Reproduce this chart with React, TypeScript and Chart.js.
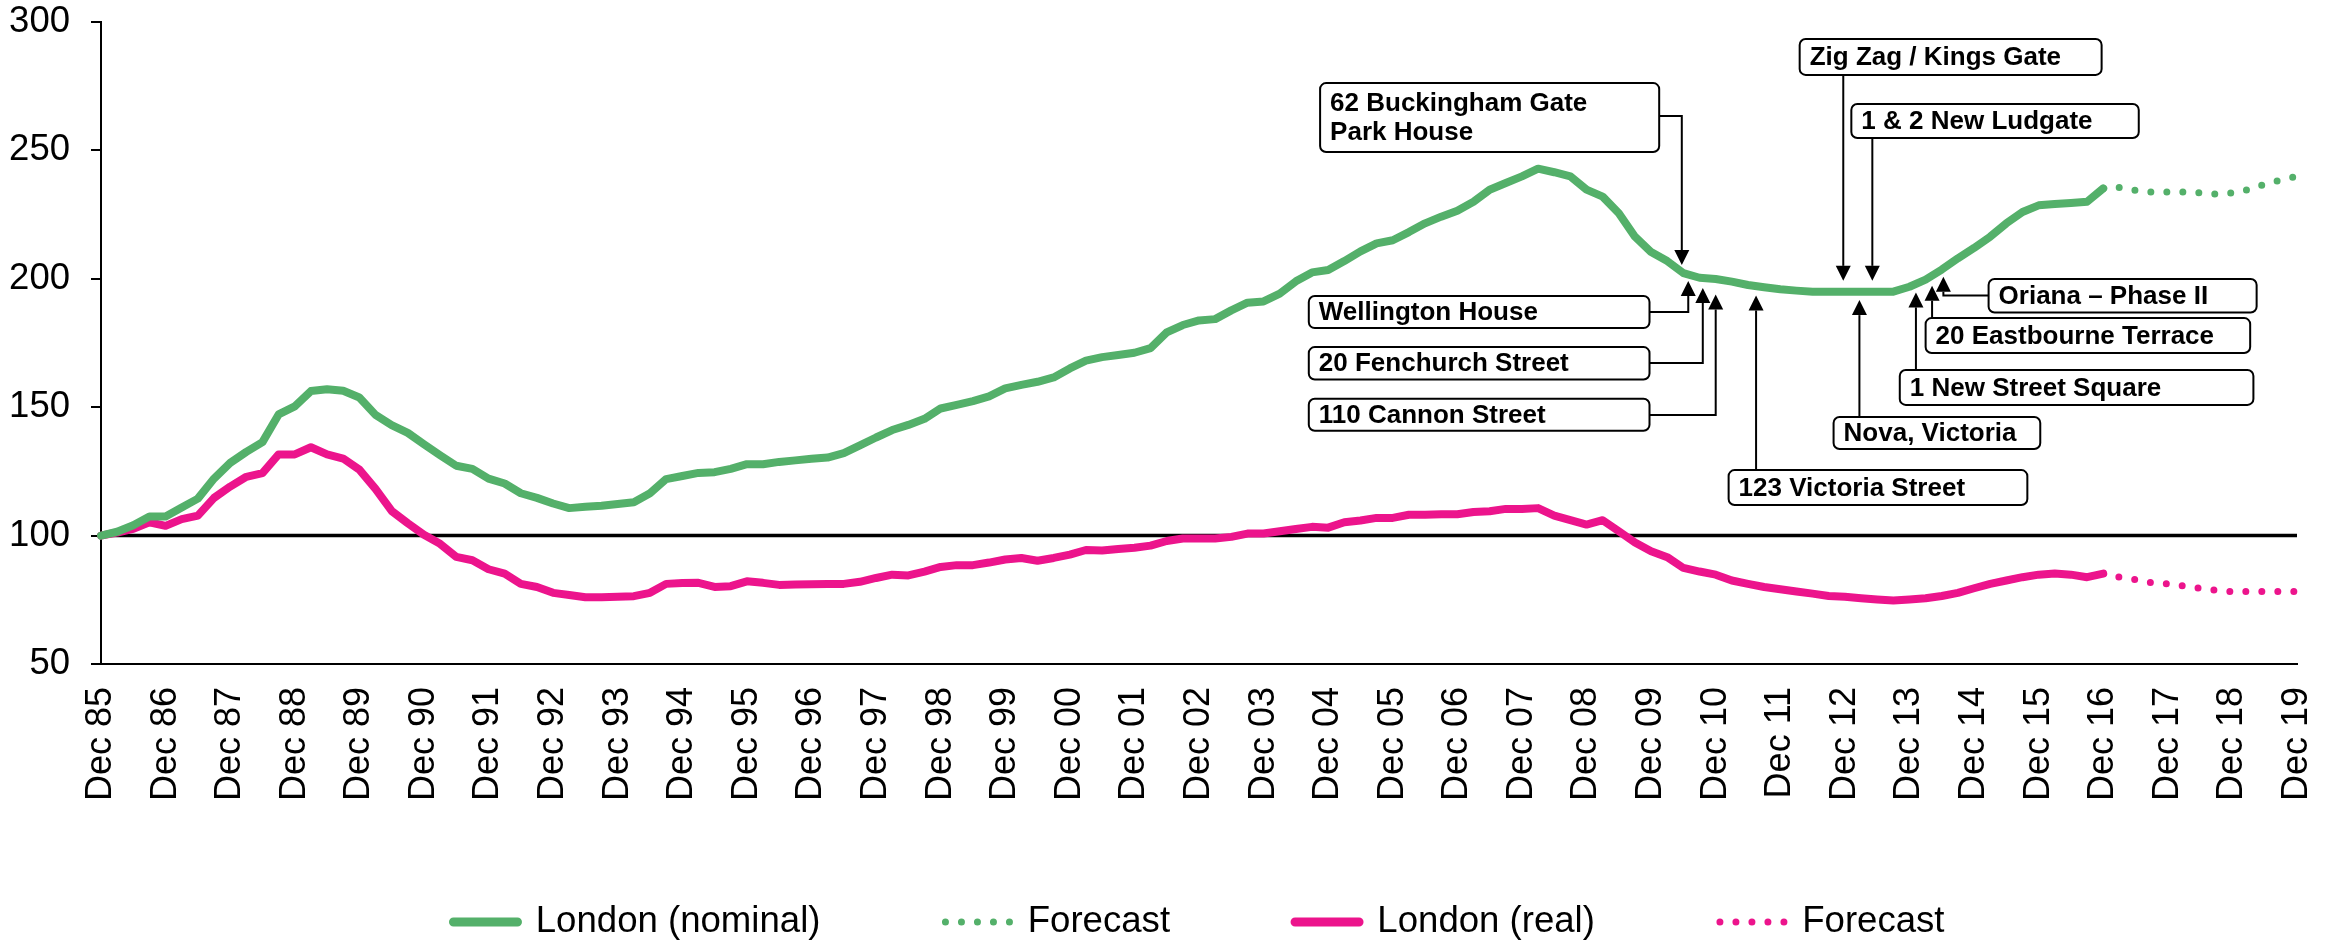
import React, { useEffect, useRef } from 'react';
import { Chart, registerables } from 'chart.js';

Chart.register(...registerables);

const FONT = "'Liberation Sans', Arial, Helvetica, sans-serif";
const GREEN = '#54B06A';
const PINK = '#EC148C';

const YEARS = ['85', '86', '87', '88', '89', '90', '91', '92', '93', '94', '95', '96', '97', '98', '99', '00', '01', '02', '03', '04', '05', '06', '07', '08', '09', '10', '11', '12', '13', '14', '15', '16', '17', '18', '19'];
const QUARTERS = ['Mar', 'Jun', 'Sep', 'Dec'];

const CATEGORIES: string[] = ['Dec ' + YEARS[0]];
for (let k = 1; k < YEARS.length; k++) for (const q of QUARTERS) CATEGORIES.push(q + ' ' + YEARS[k]);

// London (nominal), Dec 85 .. Dec 16 quarterly
const NOMINAL = [
  100, 101.5, 104, 107.4, 107.4, 110.9, 114.4, 122.2, 128.3, 132.6,
  136.4, 147.2, 150.3, 156.3, 157, 156.4, 153.8, 147, 143, 140,
  135.6, 131.3, 127.2, 126, 122.2, 120.3, 116.5, 114.7, 112.5, 110.7,
  111.2, 111.6, 112.3, 113, 116.5, 122, 123.2, 124.4, 124.7, 126,
  127.8, 127.8, 128.7, 129.3, 129.9, 130.4, 132.1, 135.1, 138.2, 141.1,
  143.1, 145.5, 149.5, 150.9, 152.4, 154.2, 157.3, 158.7, 159.9, 161.6,
  165.1, 168.1, 169.5, 170.3, 171.2, 173, 179.1, 182, 183.8, 184.3,
  187.7, 190.7, 191.2, 194.2, 199, 202.5, 203.4, 206.9, 210.7, 213.8,
  215, 218.2, 221.6, 224.2, 226.5, 230, 234.7, 237.3, 239.9, 242.9,
  241.5, 239.9, 234.7, 232, 225.5, 216.4, 210.4, 206.9, 202.2, 200.4,
  199.9, 198.9, 197.6, 196.7, 195.9, 195.4, 195, 195, 195, 195,
  195, 195, 196.9, 199.7, 203.6, 208, 212, 216.4, 221.6, 226,
  228.6, 229.1, 229.5, 230, 235.2,
];

// London (real), Dec 85 .. Dec 16 quarterly
const REAL = [
  100, 101.2, 102.6, 105.2, 103.8, 106.4, 107.8, 114.7, 119.1, 122.9,
  124.3, 131.6, 131.6, 134.4, 131.6, 130, 125.7, 118.2, 109.6, 104.8,
  100.3, 96.8, 91.7, 90.4, 86.9, 85.2, 81.2, 80, 77.7, 76.9,
  76, 76, 76.2, 76.4, 77.7, 81.2, 81.5, 81.6, 80, 80.3,
  82.2, 81.6, 80.8, 81, 81.1, 81.2, 81.2, 82, 83.5, 84.8,
  84.5, 86, 87.8, 88.5, 88.5, 89.5, 90.7, 91.3, 90.2, 91.3,
  92.6, 94.4, 94.2, 94.8, 95.3, 96.1, 97.9, 98.9, 98.9, 98.9,
  99.5, 100.8, 100.8, 101.7, 102.6, 103.4, 103.1, 105.2, 105.9, 106.9,
  106.9, 108.1, 108.1, 108.3, 108.3, 109.2, 109.5, 110.4, 110.4, 110.7,
  107.8, 106, 104.3, 106, 101.7, 97.3, 93.9, 91.6, 87.4, 86,
  84.8, 82.5, 81.2, 80, 79.1, 78.2, 77.4, 76.5, 76.2, 75.6,
  75.1, 74.7, 75.1, 75.6, 76.5, 77.7, 79.5, 81.2, 82.5, 83.8,
  84.8, 85.2, 84.8, 83.8, 85.2,
];

// Forecasts, Dec 16 .. Dec 19 quarterly
const NOMINAL_FORECAST = [235.2, 235.6, 234.4, 233.8, 233.8, 233.8, 233.5, 233, 233.5, 234.7, 236.8, 238.5, 239.9];
const REAL_FORECAST = [85.2, 83.8, 82.9, 81.6, 81.2, 80.4, 79.5, 78.7, 78.2, 78.2, 78.2, 78.2, 78.2];

const BASE_VALUE = 100;
const Y_MIN = 50;
const Y_MAX = 300;
const Y_STEP = 50;

// Callouts: box = [x-index left, value top, x-index right, value bottom]; path in (x-index, value), last point = arrow tip
const CALLOUTS = [
  { text: ['62 Buckingham Gate', 'Park House'], box: [75.5, 276.2, 96.5, 249.4], path: [[96.5, 263.4], [97.9, 263.4], [97.9, 205.4]] },
  { text: ['Zig Zag / Kings Gate'], box: [105.2, 293.4, 123.9, 279.4], path: [[107.9, 279.4], [107.9, 199.2]] },
  { text: ['1 & 2 New Ludgate'], box: [108.4, 268.1, 126.2, 254.8], path: [[109.7, 254.8], [109.7, 199.2]] },
  { text: ['Wellington House'], box: [74.8, 193.3, 95.9, 180.8], path: [[95.9, 187.1], [98.3, 187.1], [98.3, 199.1]] },
  { text: ['20 Fenchurch Street'], box: [74.8, 173.4, 95.9, 160.8], path: [[95.9, 167.2], [99.2, 167.2], [99.2, 196.4]] },
  { text: ['110 Cannon Street'], box: [74.8, 153.3, 95.9, 140.8], path: [[95.9, 147], [100, 147], [100, 193.9]] },
  { text: ['123 Victoria Street'], box: [100.8, 125.5, 119.3, 111.9], path: [[102.5, 125.5], [102.5, 193.5]] },
  { text: ['Nova, Victoria'], box: [107.3, 146.2, 120.1, 133.7], path: [[108.9, 146.2], [108.9, 191.7]] },
  { text: ['1 New Street Square'], box: [111.4, 164.5, 133.3, 150.9], path: [[112.4, 164.5], [112.4, 194.7]] },
  { text: ['20 Eastbourne Terrace'], box: [113.0, 184.7, 133.1, 171.1], path: [[113.4, 184.7], [113.4, 197.3]] },
  { text: ['Oriana \u2013 Phase II'], box: [116.9, 199.9, 133.5, 186.9], path: [[116.9, 193.5], [114.1, 193.5], [114.1, 200.8]] },
];

const FORECAST_START = NOMINAL.length - 1;

function pad(before: number, arr: number[], total: number): (number | null)[] {
  const out: (number | null)[] = [];
  for (let i = 0; i < before; i++) out.push(null);
  for (const v of arr) out.push(v);
  while (out.length < total) out.push(null);
  return out;
}

function roundRectPath(ctx: CanvasRenderingContext2D, x: number, y: number, w: number, h: number, r: number) {
  ctx.beginPath();
  ctx.moveTo(x + r, y);
  ctx.lineTo(x + w - r, y);
  ctx.arcTo(x + w, y, x + w, y + r, r);
  ctx.lineTo(x + w, y + h - r);
  ctx.arcTo(x + w, y + h, x + w - r, y + h, r);
  ctx.lineTo(x + r, y + h);
  ctx.arcTo(x, y + h, x, y + h - r, r);
  ctx.lineTo(x, y + r);
  ctx.arcTo(x, y, x + r, y, r);
  ctx.closePath();
}

// let the rotated x tick labels extend below the (short) x-scale box without clipping
const labelRoomPlugin = {
  id: 'labelRoom',
  beforeDraw(chart: any) {
    const xs = chart.scales.x;
    if (xs) xs.bottom = chart.height;
  },
};

const calloutPlugin = {
  id: 'callouts',
  afterDatasetsDraw(chart: any) {
    const ctx: CanvasRenderingContext2D = chart.ctx;
    const xs = chart.scales.x;
    const ys = chart.scales.y;
    const px = (v: number) => xs.getPixelForValue(v);
    const py = (v: number) => ys.getPixelForValue(v);
    ctx.save();
    for (const c of CALLOUTS) {
      const pts = c.path.map(([i, v]) => [px(i), py(v)]);
      const n = pts.length;
      const [tx, ty] = pts[n - 1];
      const [sx, sy] = pts[n - 2];
      const len = Math.hypot(tx - sx, ty - sy) || 1;
      const ux = (tx - sx) / len;
      const uy = (ty - sy) / len;
      const head = 15;
      const half = 7.5;
      ctx.strokeStyle = '#000';
      ctx.lineWidth = 2;
      ctx.lineJoin = 'miter';
      ctx.beginPath();
      pts.forEach(([x, y], k) => {
        if (k === 0) ctx.moveTo(x, y);
        else if (k === n - 1) ctx.lineTo(x - ux * head, y - uy * head);
        else ctx.lineTo(x, y);
      });
      ctx.stroke();
      ctx.fillStyle = '#000';
      ctx.beginPath();
      ctx.moveTo(tx, ty);
      ctx.lineTo(tx - ux * head - uy * half, ty - uy * head + ux * half);
      ctx.lineTo(tx - ux * head + uy * half, ty - uy * head - ux * half);
      ctx.closePath();
      ctx.fill();
    }
    ctx.font = 'bold 26px ' + FONT;
    ctx.textBaseline = 'middle';
    ctx.textAlign = 'left';
    for (const c of CALLOUTS) {
      const x0 = px(c.box[0]);
      const y0 = py(c.box[1]);
      const x1 = px(c.box[2]);
      const y1 = py(c.box[3]);
      roundRectPath(ctx, x0, y0, x1 - x0, y1 - y0, 6);
      ctx.fillStyle = '#fff';
      ctx.fill();
      ctx.strokeStyle = '#000';
      ctx.lineWidth = 2;
      ctx.stroke();
      ctx.fillStyle = '#000';
      const cy = (y0 + y1) / 2;
      const lh = 29;
      const start = cy - ((c.text.length - 1) * lh) / 2;
      c.text.forEach((t, k) => ctx.fillText(t, x0 + 10, start + k * lh + 1));
    }
    ctx.restore();
  },
};

export default function App() {
  const ref = useRef<HTMLCanvasElement>(null);

  useEffect(() => {
    const total = CATEGORIES.length;
    const dotted = [0, 16];
    const chart = new Chart(ref.current as HTMLCanvasElement, {
      type: 'line',
      data: {
        labels: CATEGORIES,
        datasets: [
          {
            label: 'London (nominal)',
            data: pad(0, NOMINAL, total),
            borderColor: GREEN,
            backgroundColor: GREEN,
            borderWidth: 8,
            borderCapStyle: 'round',
            borderJoinStyle: 'round',
            pointRadius: 0,
            tension: 0,
            order: 1,
          },
          {
            label: 'Forecast',
            data: pad(FORECAST_START, NOMINAL_FORECAST, total),
            borderColor: GREEN,
            backgroundColor: GREEN,
            borderWidth: 7,
            borderDash: dotted,
            borderCapStyle: 'round',
            pointRadius: 0,
            tension: 0,
            order: 2,
          },
          {
            label: 'London (real)',
            data: pad(0, REAL, total),
            borderColor: PINK,
            backgroundColor: PINK,
            borderWidth: 8,
            borderCapStyle: 'round',
            borderJoinStyle: 'round',
            pointRadius: 0,
            tension: 0,
            order: 3,
          },
          {
            label: 'Forecast',
            data: pad(FORECAST_START, REAL_FORECAST, total),
            borderColor: PINK,
            backgroundColor: PINK,
            borderWidth: 7,
            borderDash: dotted,
            borderCapStyle: 'round',
            pointRadius: 0,
            tension: 0,
            order: 4,
          },
          {
            label: 'Base',
            data: CATEGORIES.map(() => BASE_VALUE),
            borderColor: '#000',
            borderWidth: 3.5,
            pointRadius: 0,
            tension: 0,
            order: 5,
          },
        ],
      },
      options: {
        responsive: false,
        animation: false,
        devicePixelRatio: 1,
        events: [],
        layout: { padding: { left: 10, right: 35, top: 22, bottom: -10.3 } },
        scales: {
          x: {
            type: 'category',
            offset: false,
            grid: { display: false, drawTicks: false },
            border: { display: true, color: '#000', width: 2 },
            ticks: {
              autoSkip: false,
              minRotation: 90,
              maxRotation: 90,
              padding: 23,
              color: '#000',
              font: { family: FONT, size: 36 },
              callback: (_v: any, idx: number) => (CATEGORIES[idx].startsWith('Dec') ? CATEGORIES[idx] : null),
            },
            afterFit: (scale: any) => {
              scale.height = 114.7;
              scale.paddingLeft = 0;
              scale.paddingRight = 0;
            },
          },
          y: {
            min: Y_MIN,
            max: Y_MAX,
            grid: { display: true, drawOnChartArea: false, drawTicks: true, tickLength: 10, color: '#000', lineWidth: 2 },
            border: { display: true, color: '#000', width: 2 },
            ticks: {
              stepSize: Y_STEP,
              padding: 21,
              color: '#000',
              font: { family: FONT, size: 36.5 },
            },
            afterFit: (scale: any) => {
              scale.width = 91;
              scale.paddingTop = 0;
              scale.paddingBottom = 0;
            },
          },
        },
        plugins: {
          tooltip: { enabled: false },
          title: { display: false },
          legend: {
            display: true,
            position: 'bottom',
            fullSize: false,
            labels: {
              boxWidth: 64,
              boxHeight: 0,
              padding: 125,
              color: '#000',
              font: { family: FONT, size: 36.6 },
              generateLabels: (ch: any) =>
                ch.data.datasets
                  .map((ds: any, i: number) => ({
                    text: ds.label,
                    fillStyle: 'rgba(0,0,0,0)',
                    strokeStyle: ds.borderColor,
                    lineWidth: ds.borderDash ? 7 : 9,
                    lineDash: ds.borderDash ? [0, 16] : [],
                    lineCap: 'round',
                    lineJoin: 'round',
                    hidden: false,
                    datasetIndex: i,
                    fontColor: '#000',
                  }))
                  .filter((it: any) => it.text !== 'Base'),
            },
          },
        },
      },
      plugins: [labelRoomPlugin, calloutPlugin],
    } as any);
    return () => chart.destroy();
  }, []);

  return (
    <div style={{ position: 'absolute', left: 0, top: 0, width: 2332, height: 940, background: '#fff' }}>
      <canvas ref={ref} width={2332} height={940} style={{ display: 'block', width: 2332, height: 940 }} />
    </div>
  );
}
